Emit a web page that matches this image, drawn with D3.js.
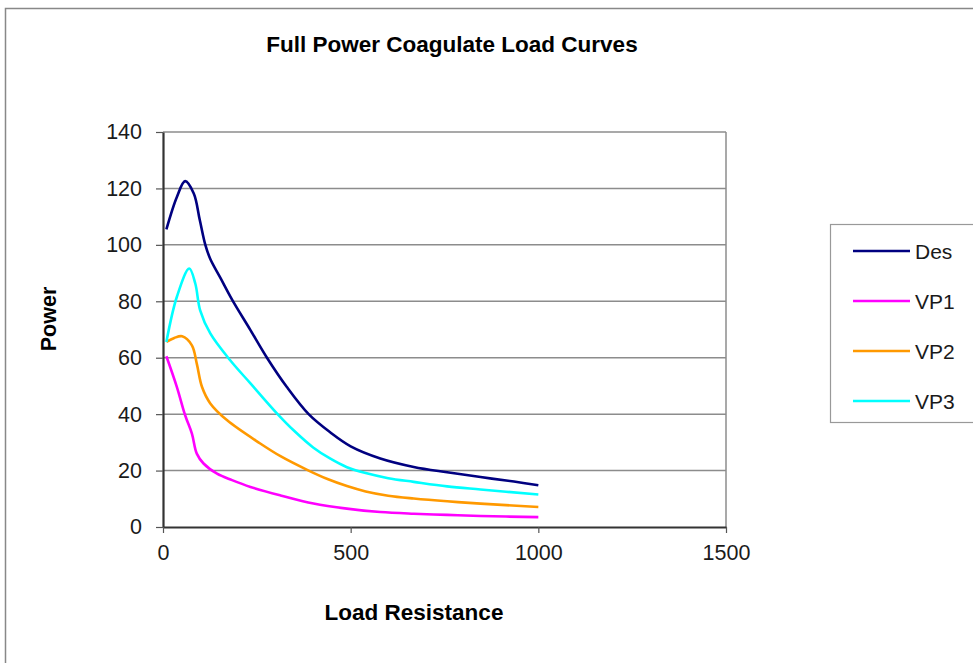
<!DOCTYPE html>
<html>
<head>
<meta charset="utf-8">
<script src="https://d3js.org/d3.v7.min.js"></script>
<style>
  body { margin: 0; background: #fff; }
  text { font-family: "Liberation Sans", Arial, sans-serif; }
</style>
</head>
<body>
<div id="chart-container"></div>
<script>
var width = 973;
var height = 663;

// load resistance / power readings for each curve
var desR = [9, 37, 59, 82, 98, 113, 126, 153, 184, 233, 277, 330, 388, 446, 500, 579, 668, 757, 846, 935, 1000];
var desP = [105.5, 117, 122.6, 118.2, 108.8, 99.9, 95, 88.3, 80.6, 69.8, 60, 49.6, 40, 33.5, 28.6, 24.3, 21.3, 19.4, 17.7, 16.1, 14.8];

var vp1R = [9, 37, 59, 77, 90, 108, 144, 184, 233, 313, 401, 490, 579, 668, 757, 846, 1000];
var vp1P = [60.5, 49.6, 39.6, 33.1, 26, 22.5, 18.9, 16.6, 14.2, 11.2, 8.3, 6.5, 5.3, 4.7, 4.3, 3.9, 3.5];

var vp2R = [9, 30, 51, 77, 90, 104, 126, 171, 259, 313, 388, 440, 490, 540, 600, 668, 757, 846, 1000];
var vp2P = [65.6, 67, 67.6, 64.4, 57.9, 49.6, 43.8, 37.8, 29.6, 25.1, 20, 16.9, 14.5, 12.6, 11.1, 10.1, 9.1, 8.3, 7.1];

var vp3R = [9, 37, 70, 86, 99, 126, 179, 233, 304, 350, 400, 446, 490, 540, 600, 668, 757, 846, 1000];
var vp3P = [65.6, 81.6, 91.6, 86.3, 76.8, 68.6, 59.1, 50.9, 40.2, 34, 28.2, 24.2, 21.2, 19.1, 17.3, 16, 14.4, 13.3, 11.5];

var seriesNames = ["Des", "VP1", "VP2", "VP3"];
var seriesColors = ["#000080", "#ff00ff", "#ff9900", "#00ffff"];

var xTicks = [0, 500, 1000, 1500];
var yTicks = [0, 20, 40, 60, 80, 100, 120, 140];

var series = [
  { id: "Des", r: desR, p: desP },
  { id: "VP1", r: vp1R, p: vp1P },
  { id: "VP2", r: vp2R, p: vp2P },
  { id: "VP3", r: vp3R, p: vp3P }
];

var margin = { top: 132, left: 163 };
var plotW = 563;
var plotH = 395;

var svg = d3.select("#chart-container")
  .append("svg")
  .attr("width", width)
  .attr("height", height);

svg.append("rect")
  .attr("width", width)
  .attr("height", height)
  .attr("fill", "#fff");

// outer chart border (left and top edges visible)
svg.append("path")
  .attr("d", "M5.5," + height + "V8.5H" + width)
  .attr("fill", "none")
  .attr("stroke", "#888")
  .attr("stroke-width", 1.5);

var xScale = d3.scaleLinear().domain([0, 1500]).range([0, plotW]);
var yScale = d3.scaleLinear().domain([0, 140]).range([plotH, 0]);

var chartGroup = svg.append("g")
  .attr("transform", "translate(" + margin.left + "," + margin.top + ")");

// gridlines
chartGroup.append("g")
  .selectAll("line")
  .data(yTicks.slice(1))
  .enter()
  .append("line")
  .attr("x1", 0)
  .attr("x2", plotW)
  .attr("y1", function(d) { return yScale(d); })
  .attr("y2", function(d) { return yScale(d); })
  .attr("stroke", "#8c8c8c")
  .attr("stroke-width", 1.5);

// right frame edge
chartGroup.append("line")
  .attr("x1", plotW).attr("x2", plotW)
  .attr("y1", 0).attr("y2", plotH)
  .attr("stroke", "#8c8c8c")
  .attr("stroke-width", 1.5);

var yAxis = d3.axisLeft(yScale).tickValues(yTicks).tickFormat(d3.format("d"))
  .tickSize(7).tickSizeOuter(0).tickPadding(14);
var yG = chartGroup.append("g").call(yAxis);

var xAxis = d3.axisBottom(xScale).tickValues(xTicks).tickFormat(d3.format("d"))
  .tickSize(6).tickSizeOuter(0).tickPadding(12);
var xG = chartGroup.append("g")
  .attr("transform", "translate(0," + plotH + ")")
  .call(xAxis);

[yG, xG].forEach(function(g) {
  g.select(".domain").attr("stroke", "#333").attr("stroke-width", 2.2);
  g.selectAll(".tick line").attr("stroke", "#555").attr("stroke-width", 1.2);
  g.selectAll(".tick text")
    .attr("fill", "#1a1a1a")
    .style("font-size", "21.5px")
    .style("font-family", "'Liberation Sans', Arial, sans-serif");
});

var line = d3.line()
  .x(function(d) { return xScale(d[0]); })
  .y(function(d) { return yScale(d[1]); })
  .curve(d3.curveCatmullRom.alpha(0.5));

chartGroup.append("g")
  .selectAll("path")
  .data(series)
  .enter()
  .append("path")
  .attr("d", function(d) {
    return line(d.r.map(function(v, i) { return [v, d.p[i]]; }));
  })
  .attr("fill", "none")
  .attr("stroke", function(d, i) { return seriesColors[i]; })
  .attr("stroke-width", 2.6)
  .attr("stroke-linejoin", "round");

// titles
svg.append("text")
  .attr("x", 452)
  .attr("y", 52)
  .attr("text-anchor", "middle")
  .style("font-size", "22.5px")
  .style("font-weight", "bold")
  .text("Full Power Coagulate Load Curves");

svg.append("text")
  .attr("x", 414)
  .attr("y", 620)
  .attr("text-anchor", "middle")
  .style("font-size", "22.5px")
  .style("font-weight", "bold")
  .text("Load Resistance");

svg.append("text")
  .attr("transform", "translate(56,319) rotate(-90)")
  .attr("text-anchor", "middle")
  .style("font-size", "21.5px")
  .style("font-weight", "bold")
  .text("Power");

// legend
svg.append("rect")
  .attr("x", 830.5)
  .attr("y", 224.5)
  .attr("width", 160)
  .attr("height", 198)
  .attr("fill", "#fff")
  .attr("stroke", "#999")
  .attr("stroke-width", 1.2);

var legend = svg.append("g")
  .selectAll("g")
  .data(seriesNames)
  .enter()
  .append("g")
  .attr("transform", function(d, i) {
    return "translate(853," + (251 + i * 50) + ")";
  });

legend.append("line")
  .attr("x1", 0)
  .attr("x2", 57)
  .attr("stroke", function(d, i) { return seriesColors[i]; })
  .attr("stroke-width", 2.6);

legend.append("text")
  .attr("x", 62)
  .attr("dy", "0.36em")
  .style("font-size", "21px")
  .attr("fill", "#1a1a1a")
  .text(function(d) { return d; });
</script>
</body>
</html>
